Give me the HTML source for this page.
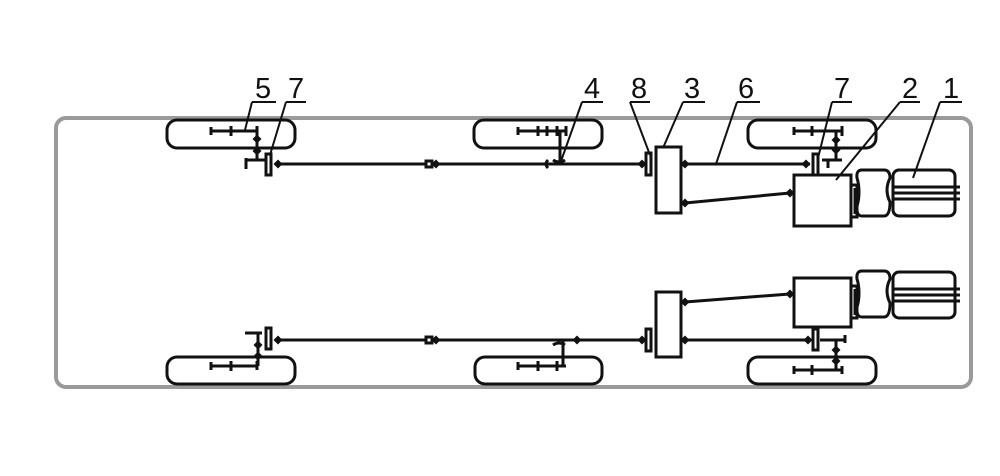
<!DOCTYPE html>
<html><head><meta charset="utf-8"><style>
html,body{margin:0;padding:0;background:#fff;}
svg{display:block}
text{font-family:"Liberation Sans",sans-serif;font-size:29px;fill:#111}
</style></head><body>
<svg width="1000" height="476" viewBox="0 0 1000 476" xmlns="http://www.w3.org/2000/svg">
<defs>
<g id="dia"><path d="M-4.5,0 L0,-4.5 L4.5,0 L0,4.5 Z" fill="#111"/></g>
</defs>
<rect x="56" y="118" width="915" height="269" rx="10" fill="none" stroke="#9a9a9a" stroke-width="4"/>
<g fill="none" stroke="#111" stroke-width="3">
<rect x="167" y="120" width="128" height="28" rx="10"/>
<rect x="474" y="120" width="128" height="28" rx="10"/>
<rect x="748" y="120" width="128" height="28" rx="10"/>
<rect x="167" y="357" width="128" height="27" rx="10"/>
<rect x="475" y="357" width="127" height="27" rx="10"/>
<rect x="748" y="357" width="128" height="27" rx="10"/>

<path d="M211,131 H258 M211,127 v8 M231,126 v10 M257,126 v8 M257,131 V160 M246,160 H266 M246,158 v11"/>
<rect x="266" y="154" width="5" height="21" fill="#fff"/>
<path d="M275,164 H640"/>
<rect x="426" y="161" width="6" height="6" fill="#fff"/>
<path d="M518,131 H566 M518,127 v8 M538,126 v10 M547,126 v10 M557,126 v10 M566,126 v10 M560,131 V164 M548,160 q-4,4 0,8 M553,160 q6,4 12,0"/>
<rect x="646" y="153" width="5" height="22" fill="#fff"/>
<rect x="656" y="147" width="25" height="66" fill="#fff"/>
<path d="M685,164 H810"/>
<path d="M685,203 L790,193"/>
<rect x="813" y="154" width="5" height="21" fill="#fff"/>
<path d="M794,131 H842 M794,127 v8 M812,126 v10 M842,126 v10 M836,131 V160 M822,160 H842 M828,160 v8"/>
<rect x="794" y="175" width="57" height="51"/>
<path d="M851,185 h6 v32 h-6 M855,188 v26"/>
<path d="M862,170 h22 q6,0 6,8 q-3,6 -3,12 q0,6 3,12 q0,14 -6,14 h-22 q-6,0 -5,-10 q2,-6 2,-14 q0,-8 -2,-14 q-1,-8 5,-8 Z"/>
<rect x="893" y="170" width="62" height="46" rx="6"/>
<path d="M893,187 H960 M893,193 H960 M893,199 H960"/>

<path d="M245,333 H262 M258,333 V366 M211,366 H258 M211,362 v8 M231,361 v10 M257,361 v9"/>
<rect x="266" y="328" width="5" height="21" fill="#fff"/>
<path d="M275,340 H640"/>
<rect x="426" y="337" width="6" height="6" fill="#fff"/>
<path d="M518,366 H566 M518,362 v8 M538,361 v10 M557,361 v10 M563,340 V366 M553,345 q6,-4 12,0"/>
<rect x="646" y="329" width="5" height="22" fill="#fff"/>
<rect x="656" y="292" width="25" height="65" fill="#fff"/>
<path d="M685,340 H810"/>
<path d="M685,302 L790,294"/>
<rect x="813" y="329" width="5" height="21" fill="#fff"/>
<path d="M820,340 H845 M845,335 v8 M836,340 V370 M794,370 H842 M794,366 v8 M812,365 v10 M842,366 v8"/>
<rect x="794" y="278" width="57" height="49"/>
<path d="M851,286 h6 v32 h-6 M855,289 v26"/>
<path d="M862,271 h22 q6,0 6,8 q-3,6 -3,12 q0,6 3,12 q0,14 -6,14 h-22 q-6,0 -5,-10 q2,-6 2,-14 q0,-8 -2,-14 q-1,-8 5,-8 Z"/>
<rect x="893" y="272" width="62" height="46" rx="6"/>
<path d="M893,289 H960 M893,295 H960 M893,301 H960"/>

<path stroke-width="2" d="M252,102 H276 M252,102 L245,130 M286,102 H306 M286,102 L270,155 M582,102 H603 M582,102 L560,164 M630,102 H650 M630,102 L650,155 M683,102 H705 M683,102 L663,148 M737,102 H760 M737,102 L716,164 M832,102 H852 M832,102 L818,158 M900,102 H920 M900,102 L836,180 M940,102 H962 M940,102 L913,178"/>
</g>
<g>
<use href="#dia" x="257" y="139"/><use href="#dia" x="257" y="151"/>
<use href="#dia" x="278" y="164"/><use href="#dia" x="436" y="164"/>
<use href="#dia" x="642" y="164"/><use href="#dia" x="685" y="164"/>
<use href="#dia" x="806" y="164"/><use href="#dia" x="836" y="140"/><use href="#dia" x="836" y="150"/>
<use href="#dia" x="685" y="203"/><use href="#dia" x="790" y="193"/>
<use href="#dia" x="258" y="345"/><use href="#dia" x="258" y="356"/>
<use href="#dia" x="278" y="340"/><use href="#dia" x="436" y="340"/><use href="#dia" x="577" y="340"/>
<use href="#dia" x="642" y="340"/><use href="#dia" x="685" y="340"/><use href="#dia" x="808" y="340"/>
<use href="#dia" x="836" y="350"/><use href="#dia" x="836" y="361"/>
<use href="#dia" x="685" y="302"/><use href="#dia" x="790" y="294"/>
</g>
<text x="255" y="98">5</text>
<text x="288" y="98">7</text>
<text x="584" y="98">4</text>
<text x="631" y="98">8</text>
<text x="684" y="98">3</text>
<text x="738" y="98">6</text>
<text x="834" y="98">7</text>
<text x="902" y="98">2</text>
<text x="943" y="98">1</text>
</svg>
</body></html>
